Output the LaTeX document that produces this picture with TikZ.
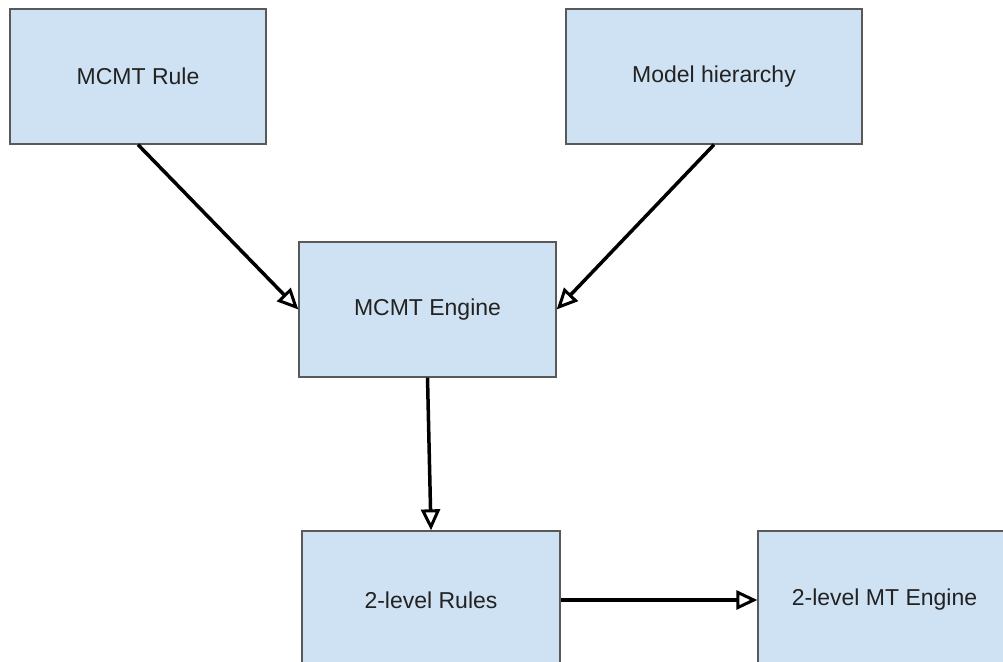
\documentclass[tikz,border=0pt]{standalone}
\usepackage{fontspec}
\setmainfont{Liberation Sans}
\usetikzlibrary{arrows.meta}
\definecolor{boxfill}{HTML}{CFE2F3}
\definecolor{boxline}{HTML}{595959}
\definecolor{textgray}{HTML}{222222}
\begin{document}
\begin{tikzpicture}[x=1pt,y=-1pt,
  block/.style={draw=boxline, line width=1.3pt, fill=boxfill, text=textgray,
    font=\fontsize{23}{27}\selectfont, inner sep=0pt},
  link/.style={line width=3.5pt, draw=black,
    -{Triangle[open,length=21pt,width=19pt,line width=3pt]}}]
\useasboundingbox (0,0) rectangle (1003,661);
\clip (0,0) rectangle (1003,661);
% source boxes
\node[block, minimum width=256pt, minimum height=135pt] (rule) at (138,76.5) {MCMT Rule};
\node[block, minimum width=296pt, minimum height=135pt] (hier) at (714,76.5) {Model hierarchy};
% engine
\node[block, minimum width=257pt, minimum height=135pt] (engine) at (427.5,309.5) {MCMT Engine};
% outputs (run past the lower edge)
\node[block, minimum width=258pt, minimum height=138pt] (rules2) at (431,600) {2-level Rules};
\node[block, minimum width=253pt, minimum height=138pt] (mt2) at (884.5,600) {2-level MT Engine};
% connectors
\draw[link] (rule.south) -- (engine.west);
\draw[link] (hier.south) -- (engine.east);
\draw[link] (engine.south) -- (rules2.north);
\draw[link] (rules2.east) -- (mt2.west);
\end{tikzpicture}
\end{document}
